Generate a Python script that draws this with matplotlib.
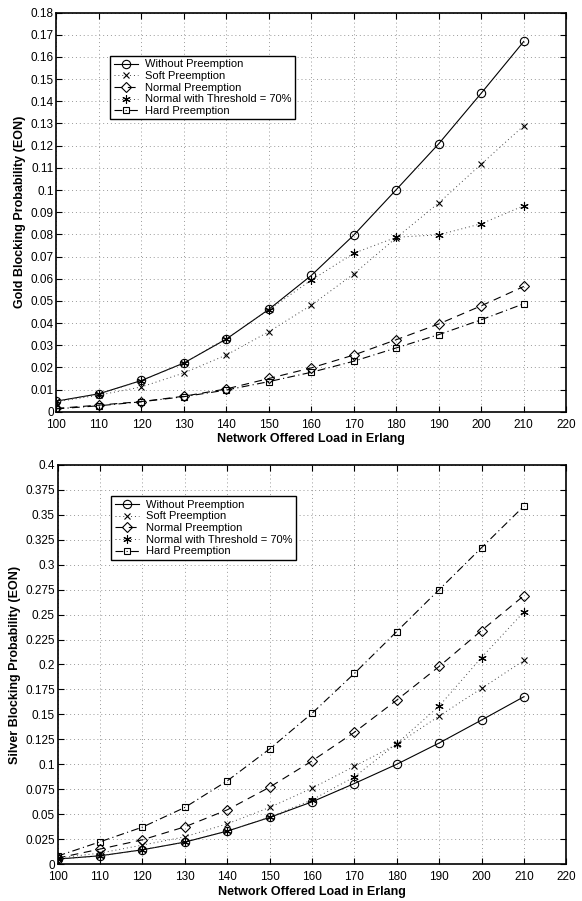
import numpy as np
import matplotlib
matplotlib.use("Agg")
import matplotlib.pyplot as plt
from matplotlib.ticker import FormatStrFormatter, MultipleLocator

plt.rcParams['font.family'] = ['Liberation Sans', 'DejaVu Sans']

load = [100, 110, 120, 130, 140, 150, 160, 170, 180, 190, 200, 210]

labels = ["Without Preemption", "Soft Preemption", "Normal Preemption",
          "Normal with Threshold = 70%", "Hard Preemption"]

# gold class blocking
gold_without = [0.0048, 0.0081, 0.0141, 0.0220, 0.0328, 0.0462, 0.0615, 0.0797, 0.1002, 0.1209, 0.1437, 0.1670]
gold_soft = [0.0045, 0.0075, 0.0112, 0.0175, 0.0256, 0.0361, 0.0481, 0.0622, 0.0785, 0.0942, 0.1117, 0.1290]
gold_normal = [0.0015, 0.0030, 0.0046, 0.0070, 0.0103, 0.0150, 0.0198, 0.0256, 0.0325, 0.0396, 0.0478, 0.0565]
gold_thresh = [0.0048, 0.0080, 0.0140, 0.0220, 0.0330, 0.0460, 0.0594, 0.0715, 0.0787, 0.0798, 0.0848, 0.0929]
gold_hard = [0.0013, 0.0027, 0.0045, 0.0068, 0.0098, 0.0136, 0.0178, 0.0228, 0.0288, 0.0348, 0.0415, 0.0487]

# silver class blocking
silver_without = [0.0050, 0.0083, 0.0143, 0.0220, 0.0330, 0.0467, 0.0623, 0.0807, 0.1000, 0.1213, 0.1443, 0.1677]
silver_soft = [0.0060, 0.0110, 0.0190, 0.0273, 0.0403, 0.0567, 0.0760, 0.0980, 0.1200, 0.1483, 0.1760, 0.2040]
silver_normal = [0.0060, 0.0150, 0.0243, 0.0373, 0.0543, 0.0770, 0.1033, 0.1320, 0.1643, 0.1980, 0.2340, 0.2690]
silver_thresh = [0.0050, 0.0080, 0.0145, 0.0220, 0.0330, 0.0470, 0.0643, 0.0873, 0.1207, 0.1583, 0.2070, 0.2527]
silver_hard = [0.0080, 0.0223, 0.0370, 0.0567, 0.0833, 0.1153, 0.1510, 0.1910, 0.2330, 0.2750, 0.3170, 0.3587]

asterisk = (6, 2, 0)
styles = [
    dict(ls='-', marker='o', ms=6, color='black', lw=0.8),
    dict(ls=(0, (1, 3)), marker='x', ms=4, color='#444444', lw=0.7),
    dict(ls=(0, (7, 5)), marker='D', ms=5, color='black', lw=0.8),
    dict(ls=(0, (1, 3)), marker=asterisk, ms=6, color='#444444', lw=0.7),
    dict(ls=(0, (7, 3, 1, 3)), marker='s', ms=5, color='black', lw=0.8),
]


def draw(ax, series, ymax, ystep, ylabel, leg_top):
    for y, lab, st in zip(series, labels, styles):
        ax.plot(load, y, label=lab, mfc='none', mec='black', mew=0.8, **st)
    ax.set_xlim(100, 220)
    ax.set_ylim(0, ymax)
    ax.xaxis.set_major_locator(MultipleLocator(10))
    ax.yaxis.set_major_locator(MultipleLocator(ystep))
    ax.yaxis.set_major_formatter(FormatStrFormatter('%g'))
    ax.tick_params(direction='in', top=True, right=True, labelsize=8.5, length=4, pad=2)
    ax.tick_params(axis='x', pad=5)
    ax.grid(True, ls=(0, (1, 3)), color='#999999', lw=0.7)
    for sp in ax.spines.values():
        sp.set_linewidth(1.2)
    ax.set_xlabel("Network Offered Load in Erlang", fontsize=9, fontweight='bold', labelpad=2)
    ax.set_ylabel(ylabel, fontsize=9, fontweight='bold', labelpad=3)
    leg = ax.legend(loc='upper left', bbox_to_anchor=(0.095, leg_top), fontsize=8,
                    fancybox=False, edgecolor='black', framealpha=1,
                    handlelength=2.2, borderpad=0.3, labelspacing=0.15,
                    handletextpad=0.6)
    leg.get_frame().set_linewidth(1.0)


fig = plt.figure(figsize=(5.82, 9.01), dpi=100)
ax1 = fig.add_axes([0.097, 0.543, 0.876, 0.443])
ax2 = fig.add_axes([0.099, 0.041, 0.874, 0.443])

draw(ax1, [gold_without, gold_soft, gold_normal, gold_thresh, gold_hard],
     0.18, 0.01, "Gold Blocking Probability (EON)", 0.905)
draw(ax2, [silver_without, silver_soft, silver_normal, silver_thresh, silver_hard],
     0.4, 0.025, "Silver Blocking Probability (EON)", 0.935)

fig.savefig("out.png", dpi=100)
